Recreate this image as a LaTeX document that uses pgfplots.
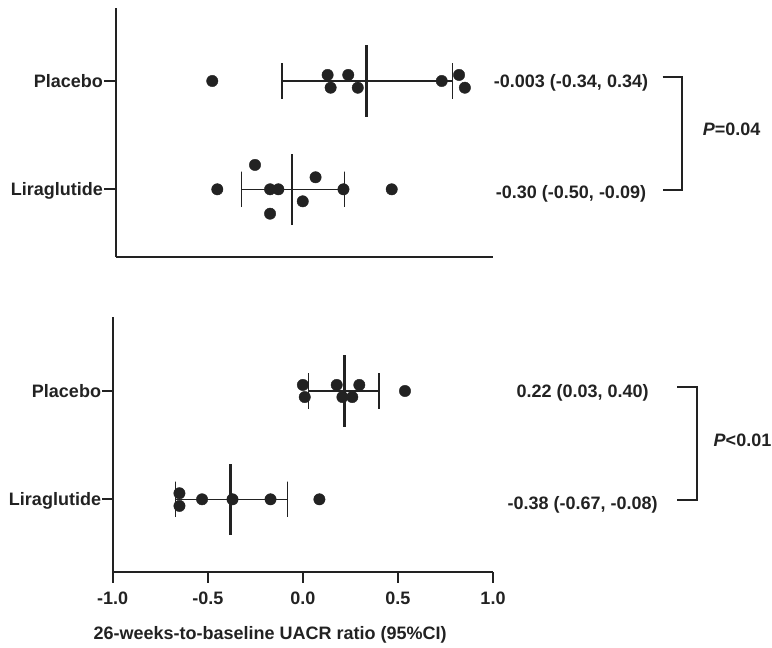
\documentclass[border=0pt]{standalone}
\usepackage{fontspec}
\setmainfont{Liberation Sans}
\usepackage{pgfplots}
\pgfplotsset{compat=1.18}
\definecolor{ink}{HTML}{222222}

\newcommand\lbl{\fontsize{18bp}{21bp}\selectfont\bfseries}

\pgfplotsset{
  forest/.style={
    scale only axis,
    axis lines=left,
    axis line style={-, line width=2.3bp, ink},
    every inner x axis line/.append style={-},
    every outer x axis line/.append style={-},
    every inner y axis line/.append style={-},
    every outer y axis line/.append style={-},
    tick align=outside,
    major tick style={line width=2.3bp, ink},
    ytick={0,1},
    yticklabels={Liraglutide,Placebo},
    tick label style={font=\lbl, text=ink},
    yticklabel style={anchor=base east, inner sep=0pt, yshift=-6.6bp, xshift=-1bp},
    /pgf/number format/assume math mode=true,
    clip=false,
  },
  dots/.style={only marks, mark=*, mark size=5.7bp, mark options={draw=ink, fill=ink}},
  ci/.style={ink, line width=1.3bp, no markers},
  mean/.style={ink, line width=2.7bp, no markers},
}

\begin{document}
\begin{tikzpicture}[x=1bp, y=1bp]
\useasboundingbox (0,0) rectangle (772,-648);

% ---- upper panel ----
\begin{axis}[forest,
  at={(116bp,-257bp)}, anchor=south west,
  width=377bp, height=249bp,
  xmin=-1, xmax=0.5, ymin=-0.625, ymax=1.674,
  xtick=\empty, major tick length=12bp]
  % Placebo
  \addplot[dots] coordinates {
    (-0.617,1.000) (-0.158,1.056) (-0.076,1.056) (-0.146,0.938)
    (-0.038,0.938) (0.296,1.000) (0.365,1.056) (0.388,0.938)};
  \addplot[ci] coordinates {(-0.34,0.836) (-0.34,1.164) (-0.34,1) (0.34,1) (0.34,1.164) (0.34,0.836)};
  \addplot[mean] coordinates {(-0.003,0.67) (-0.003,1.33)};
  % Liraglutide
  \addplot[dots] coordinates {
    (-0.447,0.225) (-0.597,0.000) (-0.387,0.000) (-0.354,0.000)
    (-0.206,0.111) (-0.095,0.000) (-0.257,-0.111) (-0.387,-0.225) (0.097,0.000)};
  \addplot[ci] coordinates {(-0.50,-0.164) (-0.50,0.164) (-0.50,0) (-0.09,0) (-0.09,0.164) (-0.09,-0.164)};
  \addplot[mean] coordinates {(-0.30,-0.33) (-0.30,0.33)};
\end{axis}

% ---- lower panel ----
\begin{axis}[forest,
  at={(112.7bp,-572bp)}, anchor=south west,
  width=380.3bp, height=255bp,
  xmin=-1, xmax=1, ymin=-0.671, ymax=1.683,
  xtick={-1,-0.5,0,0.5,1}, major tick length=10.5bp,
  xticklabel style={yshift=-6bp, /pgf/number format/.cd, fixed, fixed zerofill, precision=1},
  xlabel={26-weeks-to-baseline UACR ratio (95\%CI)},
  xlabel style={font=\lbl, text=ink, at={(axis description cs:0.414,0)}, anchor=base, yshift=-67bp}]
  % Placebo
  \addplot[dots] coordinates {
    (0.000,1.056) (0.010,0.944) (0.178,1.056) (0.208,0.944)
    (0.260,0.944) (0.297,1.056) (0.537,1.000)};
  \addplot[ci] coordinates {(0.03,0.836) (0.03,1.164) (0.03,1) (0.40,1) (0.40,1.164) (0.40,0.836)};
  \addplot[mean] coordinates {(0.22,0.67) (0.22,1.33)};
  % Liraglutide
  \addplot[dots] coordinates {
    (-0.649,0.056) (-0.649,-0.061) (-0.530,0.000) (-0.370,0.000)
    (-0.170,0.000) (0.087,0.000)};
  \addplot[ci] coordinates {(-0.67,-0.164) (-0.67,0.164) (-0.67,0) (-0.08,0) (-0.08,0.164) (-0.08,-0.164)};
  \addplot[mean] coordinates {(-0.38,-0.33) (-0.38,0.33)};
\end{axis}

% ---- estimates and comparisons ----
\begin{scope}[every node/.style={font=\lbl, text=ink, inner sep=0pt}]
  \node[anchor=base] at (571,-87.5) {-0.003 (-0.34, 0.34)};
  \node[anchor=base] at (571,-199) {-0.30 (-0.50, -0.09)};
  \draw[ink, line width=2.3bp] (662.7,-77.3) -- (682.3,-77.3) -- (682.3,-190) -- (662.7,-190);
  \node[anchor=base west] at (702.7,-136) {\textit{P}=0.04};

  \node[anchor=base] at (582.6,-397) {0.22 (0.03, 0.40)};
  \node[anchor=base] at (582.6,-509) {-0.38 (-0.67, -0.08)};
  \draw[ink, line width=2.3bp] (677.3,-387.3) -- (696.7,-387.3) -- (696.7,-500) -- (677.3,-500);
  \node[anchor=base west] at (713.5,-446.7) {\textit{P}<0.01};
\end{scope}
\end{tikzpicture}
\end{document}
